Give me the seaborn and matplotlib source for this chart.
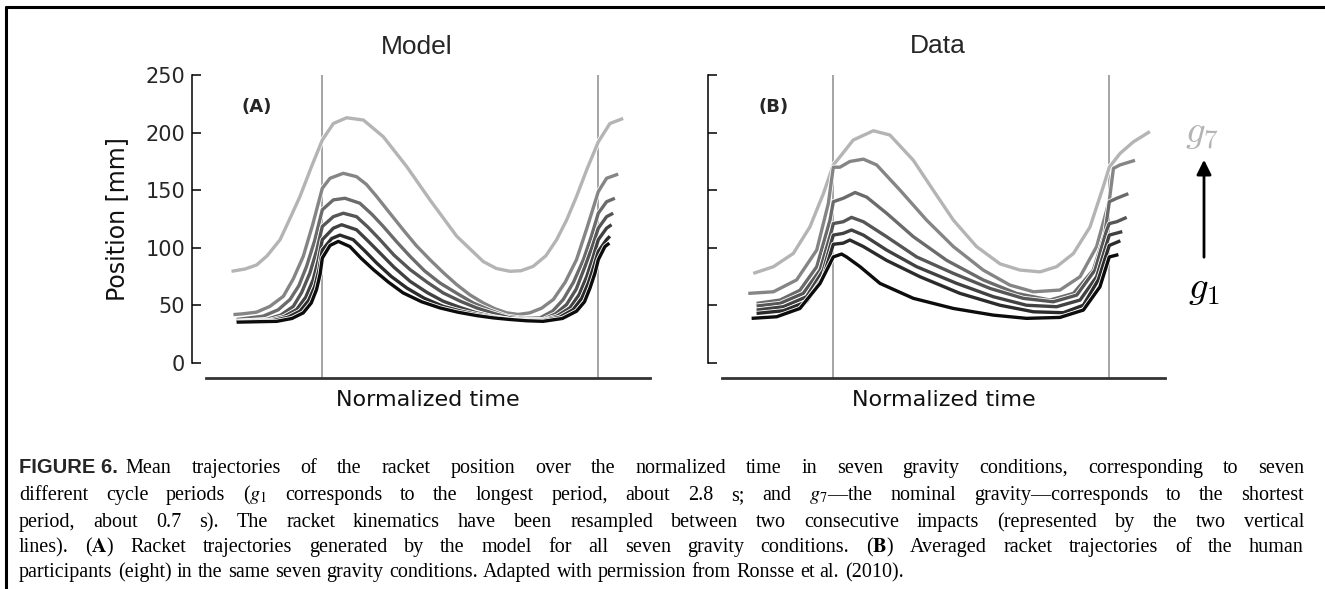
import pandas as pd
import matplotlib
matplotlib.use("Agg")
import matplotlib.pyplot as plt
import matplotlib.patheffects as pe
from matplotlib.lines import Line2D
import seaborn as sns

W, H = 1325, 589

# condition order: drawn light (g7) first, black (g1) last
conds = ["g7", "g6", "g5", "g4", "g3", "g2", "g1"]
grays = ["#b4b4b4", "#858585", "#6b6b6b", "#565656", "#414141", "#2b2b2b", "#0c0c0c"]

# ---- (A) model trajectories, normalized time / position [mm]
model_g7_t = [-0.329, -0.28, -0.238, -0.2, -0.153, -0.12, -0.081, -0.04, 0, 0.04, 0.088, 0.149, 0.221, 0.306, 0.39, 0.487, 0.583, 0.63, 0.68, 0.72, 0.764, 0.81, 0.849, 0.885, 0.921, 0.96, 1.0, 1.042, 1.09]
model_g7_y = [79.5, 81.5, 85, 93, 107, 124, 144.5, 170, 193.6, 208, 213, 211, 196.5, 170.5, 141.6, 110, 88, 82, 79.5, 80, 83.8, 93, 107, 124, 144.5, 169, 192, 208, 212.4]
model_g6_t = [-0.322, -0.29, -0.238, -0.19, -0.141, -0.105, -0.069, -0.035, 0, 0.028, 0.076, 0.124, 0.16, 0.197, 0.245, 0.293, 0.34, 0.39, 0.44, 0.487, 0.535, 0.583, 0.625, 0.668, 0.71, 0.752, 0.795, 0.837, 0.88, 0.921, 0.96, 1.0, 1.03, 1.072]
model_g6_y = [41.9, 42.5, 44, 49, 57.8, 73, 92.5, 120, 151.7, 160.4, 164.7, 161.8, 155, 144.5, 130, 115.6, 102, 89.6, 78, 67.9, 59, 52, 47, 43.4, 42, 43.4, 47.5, 55, 70, 89.6, 118, 148.8, 160.4, 164]
model_g5_t = [-0.31, -0.214, -0.16, -0.117, -0.085, -0.057, -0.028, 0, 0.04, 0.082, 0.136, 0.18, 0.221, 0.27, 0.318, 0.37, 0.426, 0.49, 0.547, 0.61, 0.668, 0.73, 0.789, 0.835, 0.873, 0.91, 0.946, 0.975, 1.0, 1.03, 1.06]
model_g5_y = [37.6, 40.5, 46, 55, 67, 83.8, 106, 133, 141.6, 143, 138.7, 129, 118.5, 105, 92.5, 80, 69.4, 60, 52, 45.5, 40.5, 38.5, 39, 45, 55, 70, 89.6, 110, 130, 140, 143]
model_g4_t = [-0.31, -0.202, -0.15, -0.105, -0.075, -0.045, -0.02, 0, 0.04, 0.076, 0.124, 0.165, 0.209, 0.26, 0.318, 0.38, 0.438, 0.5, 0.559, 0.62, 0.68, 0.74, 0.8, 0.845, 0.885, 0.92, 0.952, 0.978, 1.0, 1.03, 1.054]
model_g4_y = [36, 37.6, 41.5, 49, 61, 78, 98, 118.5, 127, 130, 127, 118, 107, 93.5, 81, 70, 60.7, 53.5, 47.7, 43, 39, 37.5, 37.6, 42.5, 50.6, 64, 83.8, 101, 117, 127, 130]
model_g3_t = [-0.31, -0.19, -0.14, -0.093, -0.06, -0.033, -0.015, 0, 0.04, 0.07, 0.124, 0.165, 0.209, 0.26, 0.318, 0.38, 0.438, 0.5, 0.559, 0.62, 0.68, 0.74, 0.8, 0.85, 0.897, 0.93, 0.958, 0.98, 1.0, 1.03, 1.048]
model_g3_y = [36, 37, 40, 46.2, 57, 72.3, 89, 107, 117, 120, 115.6, 106, 95.4, 83, 70.8, 61, 53.5, 48, 43.4, 40, 37.6, 36.8, 37, 40.5, 47.7, 59, 75, 91, 107, 117, 120]
model_g2_t = [-0.31, -0.178, -0.125, -0.081, -0.05, -0.027, -0.012, 0, 0.034, 0.064, 0.112, 0.155, 0.197, 0.25, 0.306, 0.37, 0.438, 0.5, 0.559, 0.62, 0.68, 0.74, 0.8, 0.86, 0.909, 0.94, 0.964, 0.984, 1.0, 1.03, 1.042]
model_g2_y = [35.5, 36.7, 39.5, 44.8, 54, 66.5, 81, 98, 108, 111, 107, 97, 86.7, 75, 65, 56, 49, 45, 42, 39.5, 37.6, 36.8, 36.7, 39.5, 46.2, 56, 69.4, 84, 96.8, 107, 110]
model_g1_t = [-0.31, -0.165, -0.11, -0.069, -0.04, -0.021, -0.008, 0, 0.028, 0.058, 0.1, 0.14, 0.185, 0.24, 0.293, 0.36, 0.426, 0.49, 0.559, 0.62, 0.68, 0.74, 0.8, 0.87, 0.921, 0.95, 0.97, 0.988, 1.0, 1.024, 1.04]
model_g1_y = [35.3, 36, 38.5, 43.4, 52, 63.6, 77, 91, 102, 105.5, 101, 91, 81, 70, 60.7, 53, 47.7, 44, 41, 39, 37.6, 36.5, 36, 38.5, 44.8, 53, 65, 78, 89.6, 101, 104]

# ---- (B) averaged participant trajectories
data_g7_t = [-0.29, -0.217, -0.145, -0.085, -0.036, 0, 0.024, 0.072, 0.145, 0.205, 0.29, 0.362, 0.435, 0.519, 0.604, 0.676, 0.749, 0.809, 0.87, 0.93, 0.978, 1.0, 1.039, 1.087, 1.147]
data_g7_y = [77.7, 83.5, 95, 118, 147, 172, 179, 193.6, 201.7, 198, 176, 150, 124, 101, 86, 80.6, 79, 83.5, 95, 118, 153, 170, 182, 192, 201]
data_g6_t = [-0.308, -0.217, -0.133, -0.06, -0.018, 0, 0.024, 0.06, 0.109, 0.157, 0.242, 0.338, 0.435, 0.543, 0.64, 0.725, 0.821, 0.894, 0.954, 1.0, 1.015, 1.039, 1.093]
data_g6_y = [60.3, 61.7, 72, 98, 138.5, 170, 170, 175, 177, 172, 150, 124, 101, 80.6, 67.5, 61.7, 63.2, 74.8, 101, 141, 169, 172, 176]
data_g5_t = [-0.278, -0.193, -0.121, -0.06, -0.012, 0, 0.036, 0.079, 0.121, 0.193, 0.29, 0.411, 0.543, 0.664, 0.785, 0.87, 0.942, 0.984, 1.0, 1.027, 1.069]
data_g5_y = [51.6, 54.5, 63, 83.5, 124, 140, 143, 148, 144, 130, 109.6, 89, 72, 60.3, 54.5, 60.3, 80.6, 112.5, 140, 143, 147]
data_g4_t = [-0.278, -0.193, -0.109, -0.048, -0.006, 0, 0.036, 0.066, 0.109, 0.193, 0.302, 0.435, 0.568, 0.688, 0.797, 0.882, 0.948, 0.99, 1.0, 1.027, 1.063]
data_g4_y = [49.3, 51.6, 60.3, 80.6, 115, 121, 122.6, 126.4, 122.6, 109.6, 92, 77.7, 64.6, 56, 53, 58.8, 80.6, 115, 121, 122.6, 126.4]
data_g3_t = [-0.278, -0.181, -0.097, -0.036, 0, 0.036, 0.066, 0.109, 0.193, 0.302, 0.447, 0.58, 0.7, 0.809, 0.894, 0.954, 1.0, 1.047]
data_g3_y = [45.8, 48.7, 57.4, 80.6, 111, 112.5, 115.4, 111, 98, 83.5, 69, 57.4, 50, 48.7, 54.5, 74.8, 111, 114]
data_g2_t = [-0.278, -0.181, -0.097, -0.036, 0, 0.036, 0.06, 0.109, 0.193, 0.314, 0.459, 0.604, 0.725, 0.833, 0.906, 0.96, 1.0, 1.04]
data_g2_y = [42.9, 45.2, 53, 74.8, 103, 104, 106.7, 101, 89, 74.8, 60.3, 50, 44.3, 43.5, 50, 72, 102, 106]
data_g1_t = [-0.296, -0.205, -0.121, -0.048, 0, 0.03, 0.048, 0.097, 0.169, 0.29, 0.435, 0.58, 0.7, 0.821, 0.906, 0.966, 1.0, 1.033]
data_g1_y = [38.6, 40, 47.2, 69, 92, 94.5, 92, 83.5, 69, 56, 47.2, 41.4, 38.6, 39.4, 45.8, 66, 92, 94]

y_ticks = [0, 50, 100, 150, 200, 250]

caption_lines = [
    "Mean trajectories of the racket position over the normalized time in seven gravity conditions, corresponding to seven",
    "different cycle periods ($g_1$ corresponds to the longest period, about 2.8 s; and $g_7$\u2014the nominal gravity\u2014corresponds to the shortest",
    "period, about 0.7 s). The racket kinematics have been resampled between two consecutive impacts (represented by the two vertical",
    "lines). ($\\mathbf{A}$) Racket trajectories generated by the model for all seven gravity conditions. ($\\mathbf{B}$) Averaged racket trajectories of the human",
    "participants (eight) in the same seven gravity conditions. Adapted with permission from Ronsse et al. (2010).",
]


def long_frame(ts, ys):
    parts = [pd.DataFrame({"t": t, "pos": y, "cond": c}) for c, t, y in zip(conds, ts, ys)]
    return pd.concat(parts, ignore_index=True)


model_df = long_frame(
    [model_g7_t, model_g6_t, model_g5_t, model_g4_t, model_g3_t, model_g2_t, model_g1_t],
    [model_g7_y, model_g6_y, model_g5_y, model_g4_y, model_g3_y, model_g2_y, model_g1_y],
)
data_df = long_frame(
    [data_g7_t, data_g6_t, data_g5_t, data_g4_t, data_g3_t, data_g2_t, data_g1_t],
    [data_g7_y, data_g6_y, data_g5_y, data_g4_y, data_g3_y, data_g2_y, data_g1_y],
)

sns.set_theme(style="white")
plt.rcParams["font.family"] = ["DejaVu Sans"]

fig = plt.figure(figsize=(W / 100, H / 100), dpi=100)


def px_axes(x0, x1, y_top, y_bot):
    return fig.add_axes([x0 / W, 1 - y_bot / H, (x1 - x0) / W, (y_bot - y_top) / H])


ax_a = px_axes(206, 650, 75.2, 377.7)
ax_b = px_axes(722, 1165, 75.2, 377.7)


def draw_panel(ax, df, xlim, show_labels):
    for xv in (0, 1):
        ax.axvline(xv, color="#8c8c8c", lw=1.1, zorder=1)
    sns.lineplot(data=df, x="t", y="pos", hue="cond", hue_order=conds, palette=grays,
                 sort=False, estimator=None, legend=False, lw=2.4, ax=ax)
    for ln in ax.lines[2:]:
        ln.set_path_effects([pe.Stroke(linewidth=3.6, foreground="white"), pe.Normal()])
        ln.set_solid_capstyle("butt")
        ln.set_solid_joinstyle("round")
    ax.set_xlim(*xlim)
    ax.set_ylim(-13, 250)
    ax.set_xticks([])
    ax.set_yticks(y_ticks)
    for s in ("top", "right"):
        ax.spines[s].set_visible(False)
    ax.spines["left"].set_position(("outward", 10))
    ax.spines["left"].set_bounds(0, 250)
    ax.spines["left"].set_linewidth(1.1)
    ax.spines["left"].set_color("black")
    ax.spines["bottom"].set_linewidth(2.0)
    ax.spines["bottom"].set_color("#333333")
    ax.tick_params(axis="y", direction="in", length=6.5, width=1.1, color="black",
                   labelsize=15, pad=5, labelleft=show_labels, left=True)
    ax.set_xlabel("Normalized time", fontsize=16, color="#111111")
    ax.xaxis.label.set_verticalalignment("center")
    ax.xaxis.set_label_coords(0.5, (377.7 - 400) / 302.5)
    ax.set_ylabel("")


draw_panel(ax_a, model_df, (-0.4214, 1.1873), True)
draw_panel(ax_b, data_df, (-0.4033, 1.2018), False)

ax_a.set_ylabel("Position [mm]", fontsize=17, color="#111111")
ax_a.yaxis.label.set_verticalalignment("center")
ax_a.yaxis.set_label_coords((117 - 206) / 444, (377.7 - 219) / 302.5)


def ftext(x, y, s, **kw):
    return fig.text(x / W, 1 - y / H, s, **kw)


# panel titles and tags
ftext(417, 47, "Model", ha="center", va="center", fontsize=19, family="Liberation Sans")
ftext(938, 46, "Data", ha="center", va="center", fontsize=19, family="Liberation Sans")
ftext(257, 107, "(A)", ha="center", va="center", fontsize=13, fontweight="bold")
ftext(774, 107, "(B)", ha="center", va="center", fontsize=13, fontweight="bold")

# gravity arrow
ftext(1202, 133, r"$g_7$", ha="center", va="center", fontsize=28, color=grays[0], math_fontfamily="cm")
ftext(1204, 288, r"$g_1$", ha="center", va="center", fontsize=28, color="black", math_fontfamily="cm")
ax_b.annotate("", xy=(1204, H - 157), xytext=(1204, H - 260), xycoords="figure pixels",
              textcoords="figure pixels", annotation_clip=False,
              arrowprops=dict(arrowstyle="-|>", lw=2, color="black", mutation_scale=22))

# frame of the figure box (top and left edges)
fig.add_artist(Line2D([5.5 / W, 1], [1 - 6.5 / H, 1 - 6.5 / H], color="black", lw=2.2))
fig.add_artist(Line2D([5.5 / W, 5.5 / W], [0, 1 - 6.5 / H], color="black", lw=2.2))

# caption, justified word by word
renderer = fig.canvas.get_renderer()
cap_size = 14.5
cap_kw = dict(family="Liberation Serif", fontsize=cap_size, color="black", math_fontfamily="stix")
left, right = 19, 1304
baselines = [473, 500, 527, 552, 577]

head = ftext(left, baselines[0], "FIGURE 6.", ha="left", va="baseline", family="Liberation Sans",
             fontweight="bold", fontsize=14.5)
head_w = head.get_window_extent(renderer).width


def put_words(line, x0, x1, base, justify):
    items = [ftext(0, base, w, ha="left", va="baseline", **cap_kw) for w in line.split(" ")]
    widths = [t.get_window_extent(renderer).width for t in items]
    gap = (x1 - x0 - sum(widths)) / (len(items) - 1) if justify else 0.27 * cap_size * 100 / 72
    x = x0
    for t, wd in zip(items, widths):
        t.set_x(x / W)
        x += wd + gap


for i, (line, base) in enumerate(zip(caption_lines, baselines)):
    x0 = left + head_w + 8 if i == 0 else left
    put_words(line, x0, right, base, justify=i < len(caption_lines) - 1)

fig.savefig("out.png", dpi=100)
